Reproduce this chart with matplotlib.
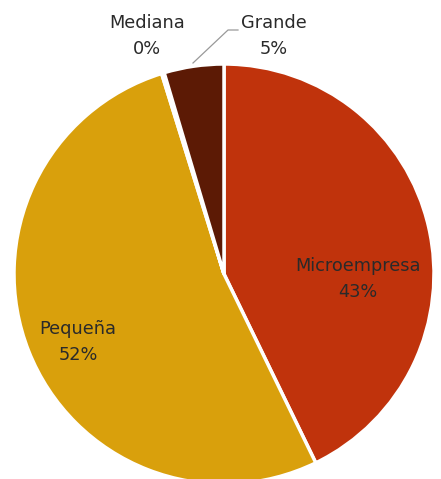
import matplotlib
matplotlib.use("Agg")
import matplotlib.pyplot as plt

categories = ["Microempresa", "Pequeña", "Mediana", "Grande"]
values = [42.8, 52.4, 0.2, 4.6]
colors = ["#C0330C", "#D9A00C", "#8A4A08", "#5C1A05"]

plt.rcParams['font.family'] = ['DejaVu Sans']

H = 479
fig = plt.figure(figsize=(4.41, 4.79), dpi=100)
ax = fig.add_axes([0, 0, 1, 1])

wedges, _ = ax.pie(values, colors=colors, startangle=90, counterclock=False,
                   center=(224, H - 274), radius=210, frame=False,
                   wedgeprops=dict(edgecolor='white', linewidth=2.5))
ax.set_xlim(0, 441)
ax.set_ylim(0, H)
ax.set_aspect('equal')
ax.axis('off')

pct = [f"{round(v):.0f}%" for v in values]
label_pos = [(358, 279), (78, 342), (147, 36), (274, 36)]
for name, p, (x, y) in zip(categories, pct, label_pos):
    ax.text(x, H - y, f"{name}\n{p}", ha='center', va='center', fontsize=12.8,
            color='#2a2a2a', linespacing=1.55)

# leader line for Grande
ax.plot([238, 228, 193], [H - 30, H - 30, H - 63], color='#999999', lw=0.9)

fig.savefig("out.png", dpi=100)
